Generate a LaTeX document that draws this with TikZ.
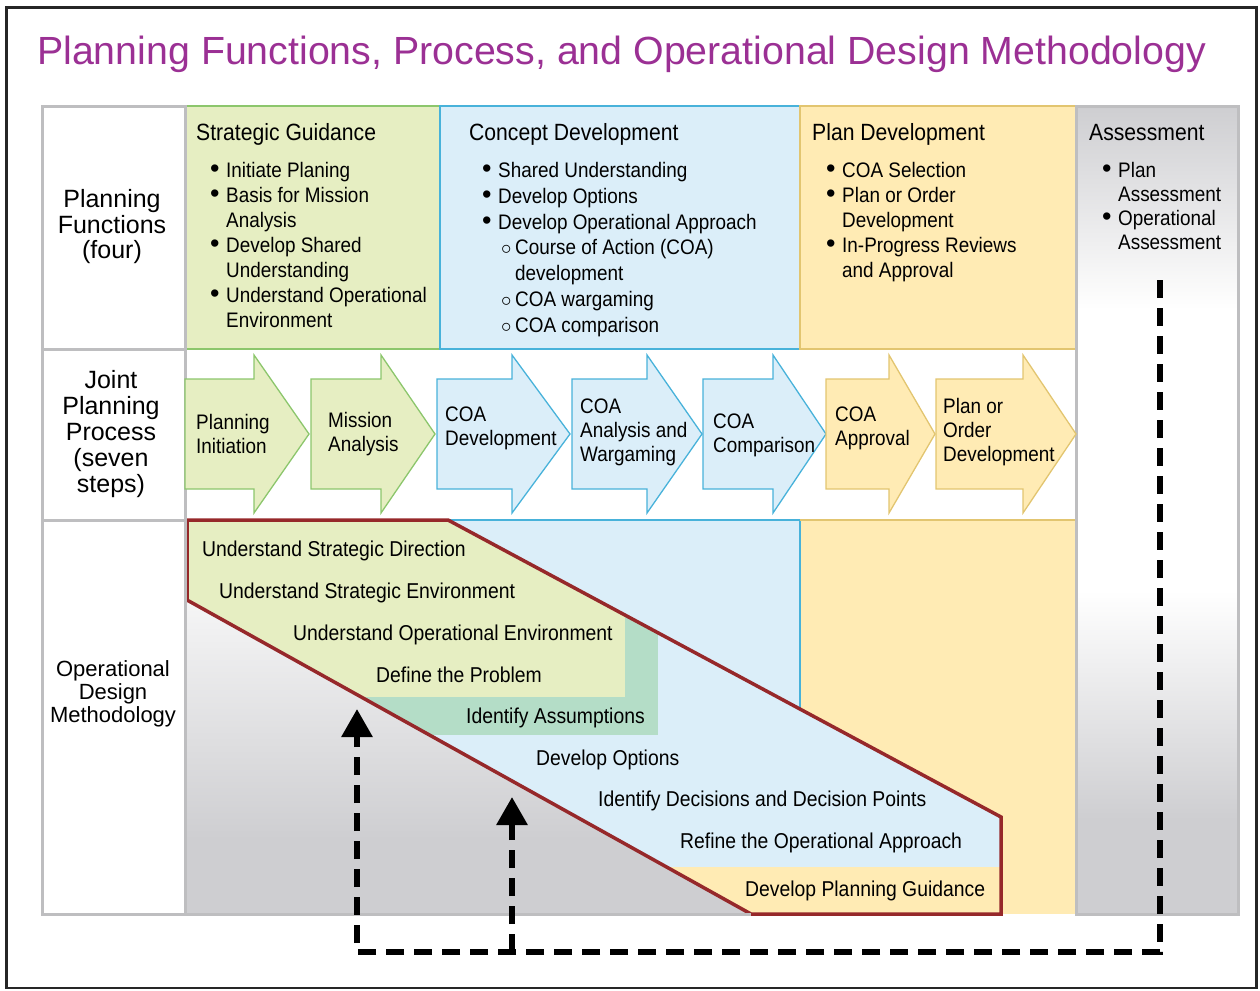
\documentclass[tikz,border=0pt]{standalone}
\usepackage{fontspec}
\setmainfont{Liberation Sans}
\newfontfamily\narrowsf[FakeStretch=0.9]{Liberation Sans}
\usetikzlibrary{positioning,arrows.meta}

\definecolor{titlepurple}{RGB}{155,48,148}
\definecolor{sgfill}{RGB}{230,238,194}
\definecolor{sgline}{RGB}{140,198,108}
\definecolor{cdfill}{RGB}{219,238,249}
\definecolor{cdline}{RGB}{72,178,218}
\definecolor{pdfill}{RGB}{255,235,180}
\definecolor{pdline}{RGB}{226,197,112}
\definecolor{mintfill}{RGB}{180,221,199}
\definecolor{gridgray}{RGB}{190,190,192}
\definecolor{asgray}{RGB}{206,206,209}
\definecolor{odmred}{RGB}{150,40,42}

\newcommand{\bdot}{{\normalfont\fontsize{27}{0}\selectfont\textbullet}}
\newcommand{\bitem}[1]{\makebox[16pt][l]{\bdot}#1}
\newcommand{\bcont}[1]{\hspace*{16pt}#1}
\newcommand{\sitem}[1]{\hspace*{19pt}\makebox[14pt][l]{$\circ$}#1}
\newcommand{\scont}[1]{\hspace*{33pt}#1}
\def\odmpoly{(187,520) -- (448,520) -- (1001,817) -- (1001,914) -- (751,914) -- (187,600) -- cycle}

\begin{document}
\begin{tikzpicture}[x=1pt, y=-1pt,
    title/.style={anchor=base west, inner sep=0, text=titlepurple, font=\fontsize{39.3}{44}\selectfont},
    head/.style={anchor=base west, inner sep=0, font=\narrowsf\fontsize{23.5}{26}\selectfont},
    list/.style={align=left, inner sep=0, font=\narrowsf\fontsize{21}{25}\selectfont},
    rowlabel/.style={align=center, inner sep=0, font=\fontsize{25}{25.5}\selectfont},
    steptext/.style={anchor=west, align=left, inner sep=0, font=\narrowsf\fontsize{21}{24}\selectfont},
    odmtext/.style={anchor=base west, inner sep=0, font=\narrowsf\fontsize{21.5}{24}\selectfont},
    grid/.style={draw=gridgray, line width=3pt},
    sgstep/.style={fill=sgfill, draw=sgline, line width=1.3pt, line join=miter},
    cdstep/.style={fill=cdfill, draw=cdline, line width=1.3pt, line join=miter},
    pdstep/.style={fill=pdfill, draw=pdline, line width=1.3pt, line join=miter},
    loopline/.style={line width=6pt, dash pattern=on 18pt off 10pt, line join=miter,
      -{Triangle[width=30pt, length=28pt]}}
  ]
  \useasboundingbox (0,0) rectangle (1260,990);
  \draw[line width=2.5pt, draw=black!85] (6.5,7.5) rectangle (1256.5,988);
  \node[title] (title) at (37,64) {Planning Functions, Process, and Operational Design Methodology};

  % backgrounds
  \shade[top color=asgray, bottom color=white] (1076,106) rectangle (1238,310);
  \shade[top color=white, bottom color=asgray] (1076,590) rectangle (1238,820);
  \fill[asgray] (1076,820) rectangle (1238,914);
  \shade[top color=white, bottom color=asgray] (185,540) rectangle (1076,840);
  \fill[asgray] (185,840) rectangle (1076,914);
  \fill[cdfill] (448,520) rectangle (800,712);
  \fill[pdfill] (800,520) rectangle (1076,914);
  \filldraw[sgstep, line width=2pt] (185,106) rectangle (440,349);
  \filldraw[cdstep, line width=2pt] (440,106) rectangle (800,349);
  \filldraw[pdstep, line width=2pt] (800,106) rectangle (1076,349);
  \draw[cdline, line width=2pt] (448,520) -- (800,520) -- (800,712);
  \draw[pdline, line width=2pt] (800,520) -- (1076,520);

  % operational design band
  \begin{scope}
    \clip \odmpoly;
    \fill[cdfill] (185,520) rectangle (1005,914);
    \fill[pdfill] (185,867) rectangle (1005,914);
    \fill[mintfill] (185,520) rectangle (658,735);
    \fill[sgfill] (185,520) rectangle (625,697);
  \end{scope}
  \draw[odmred, line width=3.5pt, line join=miter] \odmpoly;

  % table grid
  \draw[grid] (42,106) rectangle (185,914);
  \draw[grid] (42,349) -- (185,349) (42,520) -- (185,520);
  \draw[grid] (1076,106) rectangle (1238,914);
  \draw[grid] (185,914) -- (751,914);

  % row labels
  \node[rowlabel] (pflabel) at (112,227) {Planning\\Functions\\(four)};
  \node[rowlabel, font=\fontsize{25}{26}\selectfont] (jpplabel) at (111,434) {Joint\\Planning\\Process\\(seven\\steps)};
  \node[rowlabel, font=\fontsize{22}{23}\selectfont] (odmlabel) at (113,694) {Operational\\Design\\Methodology};

  % planning functions
  \node[head] (sghead) at (196,140) {Strategic Guidance};
  \node[list, below right=22pt and 14pt of sghead.base west] (sglist)
    {\bitem{Initiate Planing}\\\bitem{Basis for Mission}\\\bcont{Analysis}\\
     \bitem{Develop Shared}\\\bcont{Understanding}\\\bitem{Understand Operational}\\\bcont{Environment}};
  \node[head] (cdhead) at (469,140) {Concept Development};
  \node[list, below right=22pt and 13pt of cdhead.base west, font=\narrowsf\fontsize{21}{25.8}\selectfont] (cdlist)
    {\bitem{Shared Understanding}\\\bitem{Develop Options}\\\bitem{Develop Operational Approach}\\
     \sitem{Course of Action (COA)}\\\scont{development}\\\sitem{COA wargaming}\\\sitem{COA comparison}};
  \node[head] (pdhead) at (812,140) {Plan Development};
  \node[list, below right=22pt and 14pt of pdhead.base west] (pdlist)
    {\bitem{COA Selection}\\\bitem{Plan or Order}\\\bcont{Development}\\
     \bitem{In-Progress Reviews}\\\bcont{and Approval}};
  \node[head] (ashead) at (1089,140) {Assessment};
  \node[list, below right=22pt and 13pt of ashead.base west, font=\narrowsf\fontsize{21}{24}\selectfont] (aslist)
    {\bitem{Plan}\\\bcont{Assessment}\\\bitem{Operational}\\\bcont{Assessment}};

  % joint planning process steps
  \foreach \xa/\xb/\xt/\st/\tx/\ty/\lbl [count=\i] in {
      185/254/309/sgstep/196/434/{Planning\\Initiation},
      311/381/435/sgstep/328/434/{Mission\\Analysis},
      437/512/570/cdstep/445/428/{COA\\Development},
      572/647/702/cdstep/580/432/{COA\\Analysis and\\Wargaming},
      703/773/826/cdstep/713/435/{COA\\Comparison},
      826/889/935/pdstep/835/428/{COA\\Approval},
      936/1023/1076/pdstep/943/432/{Plan or\\Order\\Development}}
  {
    \draw[style=\st] (\xa,379) -- (\xb,379) -- (\xb,355) -- (\xt,434) -- (\xb,513) -- (\xb,489) -- (\xa,489) -- cycle;
    \node[steptext] (step\i) at (\tx,\ty) {\lbl};
  }

  % operational design steps
  \foreach \x/\y/\t [count=\i] in {
      202/556/Understand Strategic Direction,
      219/598/Understand Strategic Environment,
      293/640/Understand Operational Environment,
      376/682/Define the Problem,
      466/723/Identify Assumptions,
      536/765/Develop Options,
      598/806/Identify Decisions and Decision Points,
      680/848/Refine the Operational Approach,
      745/896/Develop Planning Guidance}
    \node[odmtext] (odm\i) at (\x,\y) {\t};

  % assessment feedback
  \coordinate (assrc) at (1160,280);
  \coordinate (loopcorner) at (1160,952);
  \coordinate (tipsg) at (357,709);
  \coordinate (tipcd) at (512,797);
  \draw[loopline] (assrc) -- (loopcorner) -| (tipsg);
  \draw[loopline] (tipcd |- loopcorner) -- (tipcd);
\end{tikzpicture}
\end{document}
